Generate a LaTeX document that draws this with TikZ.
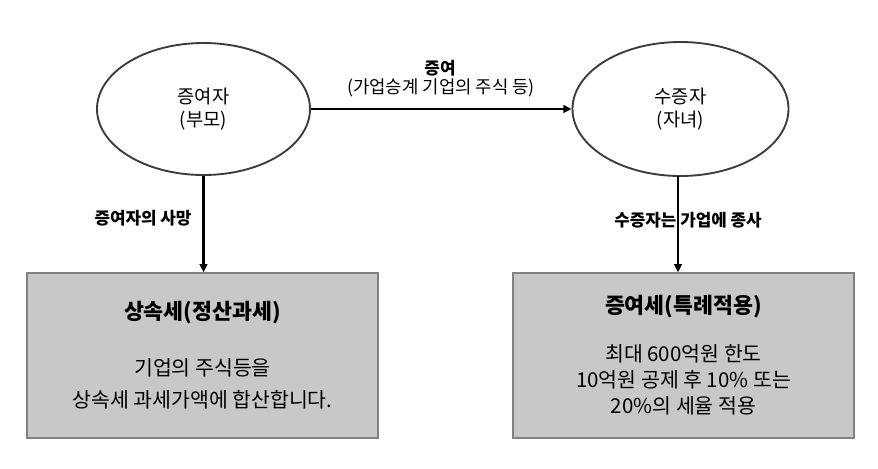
\documentclass[tikz,border=0pt]{standalone}
\usepackage{fontspec}
\setmainfont{Noto Sans CJK KR}
\usetikzlibrary{shapes.geometric,arrows.meta}
\definecolor{boxfill}{RGB}{200,200,200}
\definecolor{boxline}{RGB}{130,130,130}
\definecolor{ringline}{RGB}{60,60,60}
\tikzset{
  party/.style={ellipse,draw=ringline,line width=1.6pt,inner sep=0pt,align=center,
    font=\fontsize{16}{19}\selectfont},
  taxbox/.style={rectangle,draw=boxline,fill=boxfill,line width=1.1pt,inner sep=0pt},
  flow/.style={line width=2.2pt,-{Triangle[length=7pt,width=6.5pt]}},
  note/.style={font=\fontsize{14.4}{17}\selectfont\bfseries},
  title/.style={font=\fontsize{18.5}{22}\selectfont\bfseries},
  body/.style={align=center,font=\fontsize{17.5}{21}\selectfont}
}
\begin{document}
\begin{tikzpicture}[x=0.03cm,y=-0.03cm]
  \useasboundingbox (0,0) rectangle (878,468);
  % parties
  \node[party,minimum width=6.39cm,minimum height=3.96cm] (giver) at (203.5,109)
    {증여자\\(부모)};
  \node[party,minimum width=6.48cm,minimum height=4.02cm] (donee) at (680.5,109)
    {수증자\\(자녀)};
  % tax boxes
  \node[taxbox,minimum width=10.53cm,minimum height=4.95cm] (inherit) at (202.5,355.5) {};
  \node[taxbox,minimum width=10.23cm,minimum height=4.95cm] (gifttax) at (683.5,355.5) {};
  \node[title] (inherittitle) at (202.5,313) {상속세(정산과세)};
  \node[body,font=\fontsize{17.5}{27}\selectfont] (inheritbody) at (202.5,384)
    {기업의 주식등을\\상속세 과세가액에 합산합니다.};
  \node[title] (gifttitle) at (683.5,307) {증여세(특례적용)};
  \node[body,font=\fontsize{17.5}{22}\selectfont] (giftbody) at (683.5,380)
    {최대 600억원 한도\\10억원 공제 후 10\% 또는\\20\%의 세율 적용};
  % connectors
  \draw[flow] (giver.east) -- (donee.west);
  \node[note] (giftlabel) at (440,68) {증여};
  \node[font=\fontsize{15.2}{18}\selectfont] (giftsub) at (441,88) {(가업승계 기업의 주식 등)};
  \draw[flow] (giver.south) -- (giver.south |- inherit.north);
  \node[note] (deathlabel) at (143,218) {증여자의 사망};
  \coordinate (workpoint) at (678,176);
  \draw[flow] (workpoint) -- (workpoint |- gifttax.north);
  \node[note] (worklabel) at (688,220) {수증자는 가업에 종사};
\end{tikzpicture}
\end{document}
